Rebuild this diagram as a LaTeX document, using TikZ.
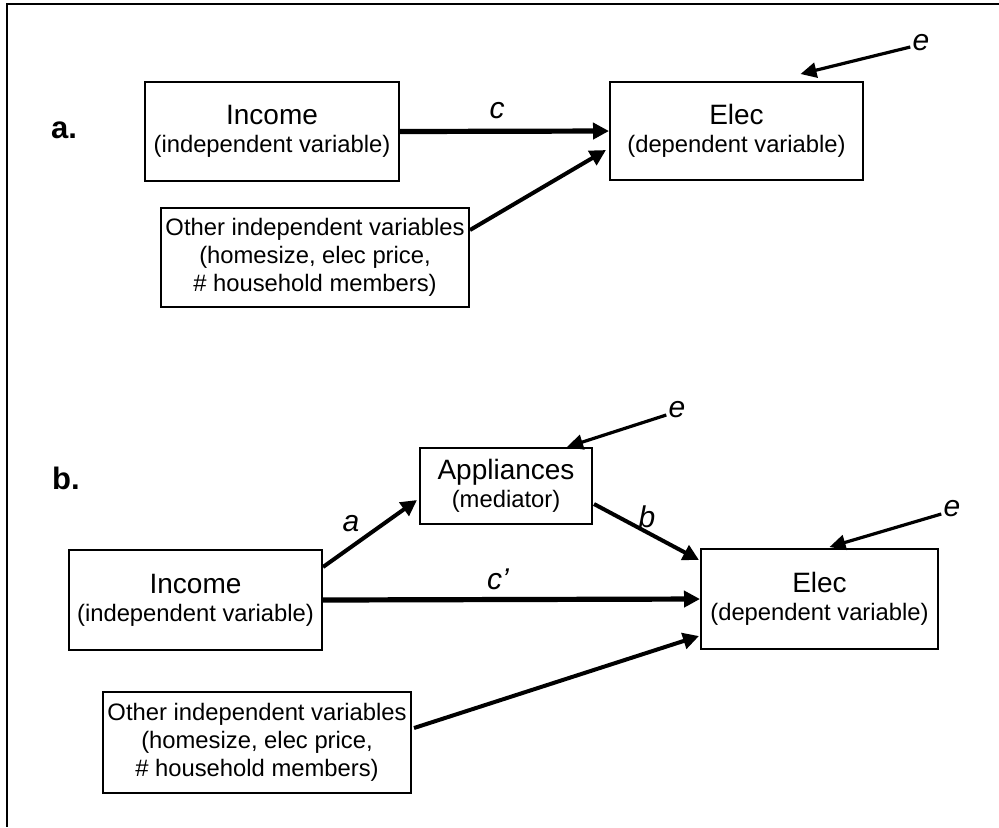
\documentclass[tikz,border=0pt]{standalone}
\usepackage{fontspec}
\setmainfont{Liberation Sans}
\usetikzlibrary{calc,arrows.meta,positioning}
\newcommand{\mainsz}{\fontsize{14}{15}\selectfont}
\newcommand{\subsz}{\fontsize{11.9}{14}\selectfont}
\tikzset{
  box/.style={draw, line width=1pt, inner sep=0pt, align=center, font=\subsz},
  lbl/.style={inner sep=0pt, font=\fontsize{15}{16}\selectfont\itshape},
  arr/.style={line width=2pt, -{Triangle[length=8pt,width=8pt]}},
  bigarr/.style={arr, line width=2.6pt},
  earr/.style={line width=1.6pt, -{Triangle[length=8pt,width=7.5pt]}}
}

\begin{document}
\begin{tikzpicture}[x=0.5pt, y=-0.5pt]
    \useasboundingbox (0,0) rectangle (999,827);
    \draw[line width=1pt] (999,4) -- (7,4) -- (7,827);

    % panel a
    \node [font=\fontsize{15.5}{17}\selectfont\bfseries] (ta) at (64,130) {a.};
    \node [box, minimum width=127pt, minimum height=49.5pt] (inca) at (272,131.5)
      {{\mainsz Income}\\(independent variable)};
    \node [box, minimum width=126.5pt, minimum height=49pt] (eleca) at (736.5,131)
      {{\mainsz Elec}\\(dependent variable)};
    \node [box, minimum width=154pt, minimum height=49.5pt] (otha) at (315,257.5)
      {Other independent variables\\(homesize, elec price,\\\# household members)};
    \node [lbl] (ca) at (497,111) {c};
    \node [lbl] (ea) at (921,43) {e};
    \draw [bigarr] (inca.east) -- (eleca.west);
    \draw [arr] ($(otha.east)+(0,-27.5)$) -- ($(eleca.west)+(-3,19)$);
    \draw [earr] ($(ea.west)+(-2,4)$) -- ($(eleca.north)+(64,-7)$);

    % panel b
    \node [font=\fontsize{15.5}{17}\selectfont\bfseries] (tb) at (66,478) {b.};
    \node [box, minimum width=86pt, minimum height=38pt] (appb) at (506,486)
      {{\mainsz Appliances}\\(mediator)};
    \node [box, minimum width=126.5pt, minimum height=50pt] (incb) at (195.5,600)
      {{\mainsz Income}\\(independent variable)};
    \node [box, minimum width=118.5pt, minimum height=50pt] (elecb) at (819.5,599)
      {{\mainsz Elec}\\(dependent variable)};
    \node [box, minimum width=154pt, minimum height=50.5pt] (othb) at (257,742.5)
      {Other independent variables\\(homesize, elec price,\\\# household members)};
    \node [lbl] (la) at (351,524) {a};
    \node [lbl] (lb) at (647,517) {b};
    \node [lbl] (lc) at (498,579) {c’};
    \node [lbl] (eapp) at (677,410) {e};
    \node [lbl] (eelec) at (952,509) {e};
    \draw [arr] ($(incb.east)+(0,-33)$) -- ($(appb.west)+(-2,14)$);
    \draw [arr] ($(appb.east)+(1,18)$) -- ($(elecb.west)+(-1,-39)$);
    \draw [bigarr] (incb.east) -- (elecb.west);
    \draw [arr] ($(othb.east)+(2,-14.5)$) -- ($(elecb.west)+(-1,37)$);
    \draw [earr] ($(eapp.west)+(-2,5)$) -- ($(appb.north)+(61,0)$);
    \draw [earr] ($(eelec.west)+(-2,5)$) -- ($(elecb.north)+(10,-1)$);
\end{tikzpicture}
\end{document}
